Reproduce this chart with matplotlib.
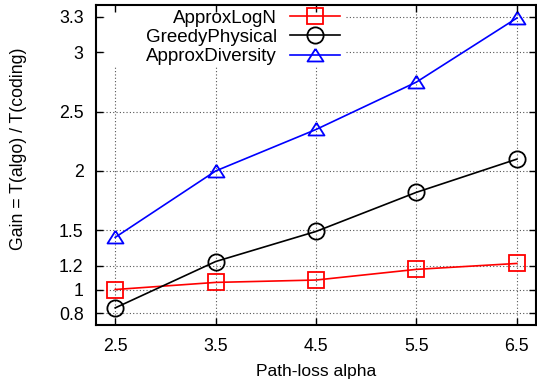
import numpy as np
import matplotlib
matplotlib.use('Agg')
import matplotlib.pyplot as plt
from matplotlib.patches import Rectangle

plt.rcParams['font.family'] = ['Liberation Sans', 'DejaVu Sans']

alpha = [2.5, 3.5, 4.5, 5.5, 6.5]
approx_logn = [1.0, 1.06, 1.08, 1.17, 1.22]
greedy_physical = [0.845, 1.236, 1.49, 1.82, 2.10]
approx_diversity = [1.44, 2.0, 2.35, 2.75, 3.29]

yticks = [0.8, 1, 1.2, 1.5, 2, 2.5, 3, 3.3]
ytick_labels = ['0.8', '1', '1.2', '1.5', '2', '2.5', '3', '3.3']

# flatter triangle, like gnuplot's point type 8
tri = [(0, 1), (-1.2, -0.9), (1.2, -0.9), (0, 1)]

fig = plt.figure(figsize=(5.37, 3.87), dpi=100)
ax = fig.add_axes([0.179, 0.160, 0.819, 0.827])
ax.set_axisbelow(False)

# dotted grid drawn by hand so the key box can hide it but not the ticks
for xv in alpha:
    ax.axvline(xv, ls=(0, (1, 2)), color='#555555', lw=0.8, zorder=1)
for yv in yticks:
    ax.axhline(yv, ls=(0, (1, 2)), color='#555555', lw=0.8, zorder=1)

# white key box (gnuplot key covers the grid)
ax.add_patch(Rectangle((0.02, 0.806), 0.546, 0.194, transform=ax.transAxes,
                       facecolor='white', edgecolor='none', zorder=1.5))

ax.plot(alpha, approx_logn, color='#ff0000', lw=1.2, marker='s', ms=11.3,
        mfc='none', mec='#ff0000', mew=1.3, label='ApproxLogN', zorder=2)
ax.plot(alpha, greedy_physical, color='black', lw=1.2, marker='o', ms=11.7,
        mfc='none', mec='black', mew=1.3, label='GreedyPhysical', zorder=2)
ax.plot(alpha, approx_diversity, color='#0000ff', lw=1.2, marker=tri, ms=11.5,
        mfc='none', mec='#0000ff', mew=1.3, label='ApproxDiversity', zorder=2)

ax.set_xlim(2.31, 6.69)
ax.set_ylim(0.7, 3.4)
ax.set_xticks(alpha)
ax.set_xticklabels(['2.5', '3.5', '4.5', '5.5', '6.5'])
ax.set_yticks(yticks)
ax.set_yticklabels(ytick_labels)
ax.tick_params(direction='in', length=5, width=1, labelsize=12.8, pad=9,
               top=True, right=True)
for s in ax.spines.values():
    s.set_linewidth(1.5)

ax.set_xlabel('Path-loss alpha', fontsize=12.5, labelpad=7)
ax.set_ylabel('Gain = T(algo) / T(coding)', fontsize=12.7)
ax.yaxis.set_label_coords(-0.157, 0.55)

leg = ax.legend(loc='upper right', bbox_to_anchor=(0.565, 1.0), markerfirst=False,
                frameon=False, fontsize=13.5, handlelength=2.67, labelspacing=0.11,
                borderpad=0.25, borderaxespad=0, handletextpad=0.7)
leg.set_zorder(3)

fig.savefig('out.png', dpi=100)
